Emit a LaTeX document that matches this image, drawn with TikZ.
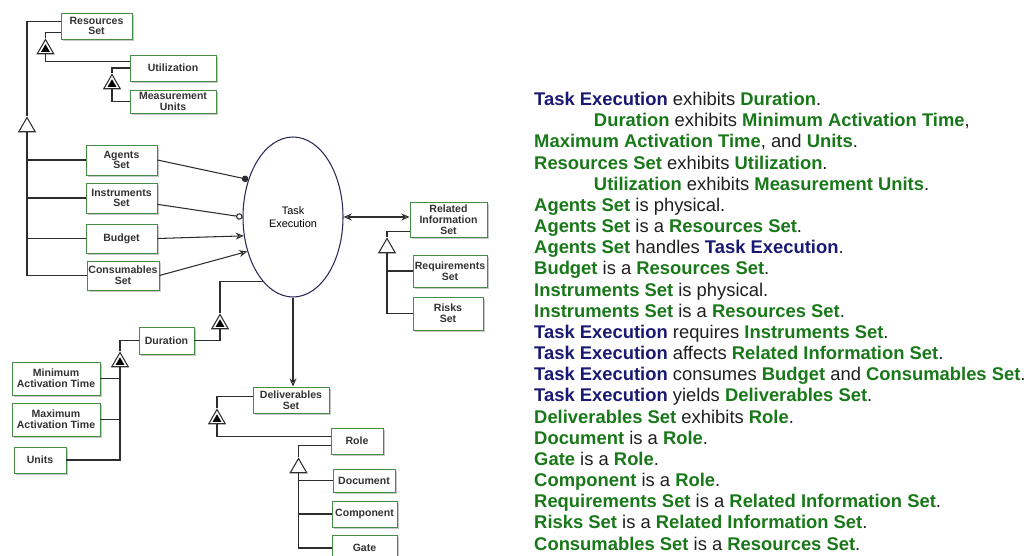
\documentclass[tikz,border=0pt]{standalone}
\usepackage{fontspec}
\setmainfont{Liberation Sans}
\usepackage{xcolor}
\usepackage{tikz}
\usetikzlibrary{arrows.meta, shapes.geometric, shadows}

\definecolor{boxgreen}{RGB}{70,140,70}
\definecolor{objgreen}{RGB}{25,120,25}
\definecolor{procblue}{RGB}{25,25,115}
\definecolor{linkgray}{RGB}{45,45,45}
\definecolor{ovalblue}{RGB}{40,40,85}
\definecolor{textblack}{RGB}{30,30,30}

\newcommand{\objname}[1]{\textcolor{objgreen}{\bfseries #1}}
\newcommand{\procname}[1]{\textcolor{procblue}{\bfseries #1}}

\begin{document}
\begin{tikzpicture}[
    x=0.03cm, y=-0.03cm,
    thing/.style={draw=boxgreen, fill=white, line width=0.8pt, align=center, inner sep=1pt,
                  font=\fontsize{9}{9.2}\selectfont\bfseries, text=black!80,
                  drop shadow={shadow xshift=2pt, shadow yshift=-2pt, fill=black!22, opacity=1}},
    process/.style={draw=ovalblue, ellipse, line width=0.9pt, minimum width=3cm,
                    minimum height=4.8cm, align=center, font=\fontsize{9.3}{10.5}\selectfont},
    link/.style={draw=linkgray, line width=0.9pt},
    gentri/.style={draw=linkgray, fill=white, line width=0.9pt, regular polygon,
                   regular polygon sides=3, minimum size=0.57cm, inner sep=0pt},
    exhtri/.style={gentri, path picture={
        \fill[black] ([xshift=-0.13cm, yshift=0.06cm]path picture bounding box.south)
            -- ([xshift=0.13cm, yshift=0.06cm]path picture bounding box.south)
            -- ([yshift=0.285cm]path picture bounding box.south) -- cycle;}},
    agentlink/.style={link, -{Circle[length=5.5pt]}},
    instrlink/.style={link, -{Circle[open, length=5.5pt]}},
    conslink/.style={link, -{Stealth[open, length=7pt, width=6pt]}},
    effectlink/.style={link, {Stealth[open, length=7pt, width=6pt]}-{Stealth[open, length=7pt, width=6pt]}}
]
\useasboundingbox (0,0) rectangle (1027,556);
%% Resources set and its specializations
\node[thing, minimum width=2.13cm, minimum height=0.78cm] (resset) at (96.5, 26) {Resources\\Set};
\node[thing, minimum width=2.58cm, minimum height=0.78cm] (util) at (173, 68) {Utilization};
\node[thing, minimum width=2.58cm, minimum height=0.69cm] (meas) at (173, 101.5) {Measurement\\Units};
\node[thing, minimum width=2.13cm, minimum height=0.9cm] (agents) at (121.5, 160) {Agents\\Set};
\node[thing, minimum width=2.13cm, minimum height=0.9cm] (instr) at (121.5, 198) {Instruments\\Set};
\node[thing, minimum width=2.13cm, minimum height=0.87cm] (budget) at (121.5, 238.5) {Budget};
\node[thing, minimum width=2.16cm, minimum height=0.87cm] (consum) at (123, 275.5) {Consumables\\Set};
\node[gentri] (gres) at (27, 127) {};
\node[exhtri] (eutil) at (45.5, 49) {};
\node[exhtri] (emeas) at (112, 84) {};
\draw[link] (resset.173) -| (gres.corner 1);
\draw[link] (gres.side 2) |- (consum.west);
\foreach \n in {agents, instr, budget}
    \draw[link] (gres.side 2 |- \n.west) -- (\n.west);
\draw[link] (resset.190) -| (eutil.corner 1);
\draw[link] (eutil.side 2) |- (util.171);
\draw[link] (util.west) -| (emeas.corner 1);
\draw[link] (emeas.side 2) |- (meas.west);
%% The process
\node[process] (taskex) at (293, 217) {Task\\Execution};
\draw[agentlink] (agents.east) -- (taskex.140);
\draw[instrlink] (instr.-10) -- (taskex.west);
\draw[conslink] (budget.east) -- (taskex.201);
\draw[conslink] (consum.east) -- (taskex.217);
%% Related information
\node[thing, minimum width=2.31cm, minimum height=1.05cm] (relinfo) at (448.5, 219.5) {Related\\Information\\Set};
\node[thing, minimum width=2.22cm, minimum height=0.96cm] (req) at (450, 271) {Requirements\\Set};
\node[thing, minimum width=2.1cm, minimum height=0.99cm] (risks) at (448, 313.5) {Risks\\Set};
\node[gentri] (grel) at (387, 248) {};
\draw[effectlink] (taskex.east) -- (taskex.east -| relinfo.west);
\draw[link] (relinfo.197) -| (grel.corner 1);
\draw[link] (grel.side 2) |- (risks.west);
\draw[link] (grel.side 2 |- req.west) -- (req.west);
%% Duration and its attributes
\node[thing, minimum width=1.65cm, minimum height=0.81cm] (dur) at (166.5, 340.5) {Duration};
\node[exhtri] (edur) at (220, 324) {};
\node[thing, minimum width=2.64cm, minimum height=0.99cm] (minact) at (56, 378.5) {Minimum\\Activation Time};
\node[thing, minimum width=2.64cm, minimum height=0.99cm] (maxact) at (56, 419.5) {Maximum\\Activation Time};
\node[thing, minimum width=1.56cm, minimum height=0.78cm] (units) at (40, 460) {Units};
\node[exhtri] (edurattr) at (120, 362) {};
\draw[link] (taskex.245) -| (edur.corner 1);
\draw[link] (edur.side 2) |- (dur.east);
\draw[link] (dur.west) -| (edurattr.corner 1);
\draw[link] (edurattr.side 2) |- (units.east);
\foreach \n in {minact, maxact}
    \draw[link] (edurattr.side 2 |- \n.east) -- (\n.east);
%% Deliverables and roles
\node[thing, minimum width=2.28cm, minimum height=0.78cm] (deliv) at (291, 400) {Deliverables\\Set};
\node[exhtri] (edeliv) at (217, 419) {};
\node[thing, minimum width=1.56cm, minimum height=0.78cm] (role) at (357, 441) {Role};
\node[gentri] (grole) at (298.5, 468) {};
\node[thing, minimum width=1.86cm, minimum height=0.69cm] (doc) at (364, 480.5) {Document};
\node[thing, minimum width=1.95cm, minimum height=0.78cm] (comp) at (364.5, 514) {Component};
\node[thing, minimum width=1.95cm, minimum height=0.78cm] (gate) at (364.5, 548) {Gate};
\draw[conslink] (taskex.south) -- (taskex.south |- deliv.north);
\draw[link] (deliv.175) -| (edeliv.corner 1);
\draw[link] (edeliv.side 2) |- (role.170);
\draw[link] (role.190) -| (grole.corner 1);
\draw[link] (grole.side 2) |- (gate.west);
\foreach \n in {doc, comp}
    \draw[link] (grole.side 2 |- \n.west) -- (\n.west);
%% Sentences
\node[anchor=north west, inner sep=0pt, align=left, text=textblack,
      font=\fontsize{15.7}{18.07}\selectfont] (facts) at (534, 92) {
\procname{Task Execution} exhibits \objname{Duration}.\\
\hspace*{51pt}\objname{Duration} exhibits \objname{Minimum Activation Time},\\
\objname{Maximum Activation Time}, and \objname{Units}.\\
\objname{Resources Set} exhibits \objname{Utilization}.\\
\hspace*{51pt}\objname{Utilization} exhibits \objname{Measurement Units}.\\
\objname{Agents Set} is physical.\\
\objname{Agents Set} is a \objname{Resources Set}.\\
\objname{Agents Set} handles \procname{Task Execution}.\\
\objname{Budget} is a \objname{Resources Set}.\\
\objname{Instruments Set} is physical.\\
\objname{Instruments Set} is a \objname{Resources Set}.\\
\procname{Task Execution} requires \objname{Instruments Set}.\\
\procname{Task Execution} affects \objname{Related Information Set}.\\
\procname{Task Execution} consumes \objname{Budget} and \objname{Consumables Set}.\\
\procname{Task Execution} yields \objname{Deliverables Set}.\\
\objname{Deliverables Set} exhibits \objname{Role}.\\
\objname{Document} is a \objname{Role}.\\
\objname{Gate} is a \objname{Role}.\\
\objname{Component} is a \objname{Role}.\\
\objname{Requirements Set} is a \objname{Related Information Set}.\\
\objname{Risks Set} is a \objname{Related Information Set}.\\
\objname{Consumables Set} is a \objname{Resources Set}.
};
\end{tikzpicture}
\end{document}
